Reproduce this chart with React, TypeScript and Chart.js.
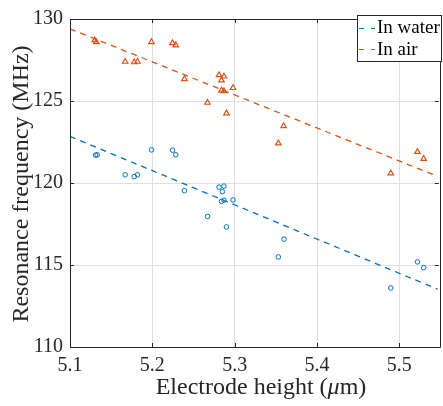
import React, { useEffect, useRef } from "react";
import { Chart, registerables } from "chart.js";

Chart.register(...registerables);

// Electrode height (µm) and resonance frequency (MHz)
const WATER_HEIGHT = [5.131, 5.133, 5.167, 5.178, 5.182, 5.199, 5.2245, 5.2285, 5.239, 5.267, 5.281, 5.285, 5.287, 5.284, 5.287, 5.290, 5.298, 5.353, 5.360, 5.4896, 5.522, 5.5296];
const WATER_FREQ = [121.7, 121.72, 120.5, 120.39, 120.5, 122.02, 122.0, 121.72, 119.53, 117.96, 119.75, 119.47, 119.81, 118.88, 118.95, 117.32, 118.97, 115.49, 116.58, 113.6, 115.19, 114.84];

const AIR_HEIGHT = [5.130, 5.132, 5.167, 5.178, 5.182, 5.199, 5.2245, 5.2285, 5.239, 5.267, 5.281, 5.284, 5.287, 5.284, 5.287, 5.290, 5.298, 5.353, 5.3595, 5.4896, 5.522, 5.5296];
const AIR_FREQ = [128.7, 128.6, 127.4, 127.37, 127.4, 128.6, 128.53, 128.4, 126.34, 124.9, 126.58, 126.26, 126.5, 125.64, 125.6, 124.25, 125.8, 122.42, 123.47, 120.59, 121.9, 121.48];

// Fitted trend lines (end points)
const FIT_HEIGHT = [5.1, 5.5467];
const WATER_FIT = [122.84, 113.52];
const AIR_FIT = [129.4, 120.4];

const X_TICKS = [5.1, 5.2, 5.3, 5.4, 5.5];
const Y_TICKS = [110, 115, 120, 125, 130];
const X_MIN = 5.1;
const X_MAX = 5.5467;
const Y_MIN = 110;
const Y_MAX = 130;

const LABELS = ["In water", "In air"];
const X_TITLE = "Electrode height (";
const X_TITLE_MU = "\u03BC";
const X_TITLE_END = "m)";
const Y_TITLE = "Resonance frequency (MHz)";

const BLUE = "#0072BD";
const ORANGE = "#D95319";
const AXIS = "#262626";
const FONT = "'Liberation Serif', 'Times New Roman', serif";

const pts = (xs: number[], ys: number[]) => xs.map((x, i) => ({ x, y: ys[i] }));

const framePlugin = {
  id: "frame",
  afterDraw(chart: any) {
    const { ctx, chartArea: a, scales } = chart;
    const xs = scales.x;
    const ys = scales.y;
    ctx.save();
    ctx.strokeStyle = AXIS;
    ctx.lineWidth = 1;
    // box
    ctx.beginPath();
    ctx.rect(Math.round(a.left) + 0.5, Math.round(a.top) + 0.5, Math.round(a.right - a.left) + 2, Math.round(a.bottom - a.top));
    ctx.stroke();
    // inward ticks
    const tl = 4;
    ctx.beginPath();
    X_TICKS.forEach((v) => {
      const px = Math.round(xs.getPixelForValue(v)) + 0.5;
      ctx.moveTo(px, a.bottom);
      ctx.lineTo(px, a.bottom - tl);
      ctx.moveTo(px, a.top);
      ctx.lineTo(px, a.top + tl);
    });
    Y_TICKS.forEach((v) => {
      const py = Math.round(ys.getPixelForValue(v)) + 0.5;
      ctx.moveTo(a.left, py);
      ctx.lineTo(a.left + tl, py);
      ctx.moveTo(a.right + 1, py);
      ctx.lineTo(a.right + 1 - tl, py);
    });
    ctx.stroke();

    // axis titles
    ctx.fillStyle = AXIS;
    ctx.textBaseline = "alphabetic";
    const tf = `24px ${FONT}`;
    const itf = `italic 24px ${FONT}`;
    ctx.font = tf;
    const w1 = ctx.measureText(X_TITLE).width;
    const w3 = ctx.measureText(X_TITLE_END).width;
    ctx.font = itf;
    const w2 = ctx.measureText(X_TITLE_MU).width;
    const total = w1 + w2 + w3;
    const cx = 261;
    const x0 = cx - total / 2;
    const by = 394;
    ctx.font = tf;
    ctx.textAlign = "left";
    ctx.fillText(X_TITLE, x0, by);
    ctx.font = itf;
    ctx.fillText(X_TITLE_MU, x0 + w1, by);
    ctx.font = tf;
    ctx.fillText(X_TITLE_END, x0 + w1 + w2, by);

    ctx.save();
    ctx.translate(28, 184);
    ctx.rotate(-Math.PI / 2);
    ctx.textAlign = "center";
    ctx.font = tf;
    ctx.fillText(Y_TITLE, 0, 0);
    ctx.restore();

    // legend
    const lx = 357.5, ly = 15.5, lw = 84, lh = 46;
    ctx.fillStyle = "#ffffff";
    ctx.fillRect(lx, ly, lw, lh);
    ctx.strokeStyle = AXIS;
    ctx.strokeRect(lx, ly, lw, lh);
    const colors = [BLUE, ORANGE];
    const lineYs = [28.5, 49.5];
    const baseYs = [33, 55];
    ctx.font = `19px ${FONT}`;
    ctx.textAlign = "left";
    LABELS.forEach((lab, i) => {
      ctx.strokeStyle = colors[i];
      ctx.lineWidth = 1.2;
      ctx.setLineDash([5, 7]);
      ctx.beginPath();
      ctx.moveTo(359, lineYs[i]);
      ctx.lineTo(375, lineYs[i]);
      ctx.stroke();
      ctx.setLineDash([]);
      ctx.fillStyle = "#000000";
      ctx.fillText(lab, 377, baseYs[i]);
    });
    ctx.restore();
  },
};

export default function App() {
  const ref = useRef<HTMLCanvasElement>(null);
  useEffect(() => {
    if (!ref.current) return;
    const chart = new Chart(ref.current, {
      type: "scatter",
      data: {
        datasets: [
          {
            label: LABELS[0],
            data: pts(WATER_HEIGHT, WATER_FREQ),
            pointStyle: "circle",
            pointRadius: 2.3,
            borderColor: BLUE,
            backgroundColor: "rgba(255,255,255,0)",
            borderWidth: 1,
          },
          {
            label: LABELS[1],
            data: pts(AIR_HEIGHT, AIR_FREQ),
            pointStyle: "triangle",
            pointRadius: 3.2,
            borderColor: ORANGE,
            backgroundColor: "rgba(255,255,255,0)",
            borderWidth: 1.2,
          },
          {
            label: LABELS[0] + " fit",
            data: pts(FIT_HEIGHT, WATER_FIT),
            showLine: true,
            pointRadius: 0,
            borderColor: BLUE,
            borderWidth: 1.3,
            borderDash: [6, 5],
          },
          {
            label: LABELS[1] + " fit",
            data: pts(FIT_HEIGHT, AIR_FIT),
            showLine: true,
            pointRadius: 0,
            borderColor: ORANGE,
            borderWidth: 1.3,
            borderDash: [6, 5],
          },
        ],
      },
      options: {
        animation: false,
        responsive: false,
        layout: { padding: { top: 12, right: 0, left: 0, bottom: 0 } },
        plugins: { legend: { display: false }, tooltip: { enabled: false } },
        scales: {
          x: {
            type: "linear",
            min: X_MIN,
            max: X_MAX,
            afterBuildTicks: (s: any) => {
              s.ticks = X_TICKS.map((v) => ({ value: v }));
            },
            afterFit: (s: any) => {
              s.height = 59;
            },
            grid: { color: "#dfdfdf", lineWidth: 1, drawTicks: false },
            border: { display: false },
            ticks: {
              padding: 7,
              color: AXIS,
              font: { family: FONT, size: 20 },
              maxRotation: 0,
              callback: (v: any) => Number(v).toFixed(1),
            },
          },
          y: {
            type: "linear",
            min: Y_MIN,
            max: Y_MAX,
            afterBuildTicks: (s: any) => {
              s.ticks = Y_TICKS.map((v) => ({ value: v }));
            },
            afterFit: (s: any) => {
              s.width = 70;
            },
            grid: { color: "#dfdfdf", lineWidth: 1, drawTicks: false },
            border: { display: false },
            ticks: {
              padding: 7,
              color: AXIS,
              font: { family: FONT, size: 20 },
              callback: (v: any) => String(v),
            },
          },
        },
      },
      plugins: [framePlugin],
    });
    return () => chart.destroy();
  }, []);
  return (
    <div style={{ position: "fixed", left: 0, top: 0, width: 443, height: 406, background: "#fff" }}>
      <canvas ref={ref} width={443} height={406} style={{ display: "block" }} />
    </div>
  );
}
